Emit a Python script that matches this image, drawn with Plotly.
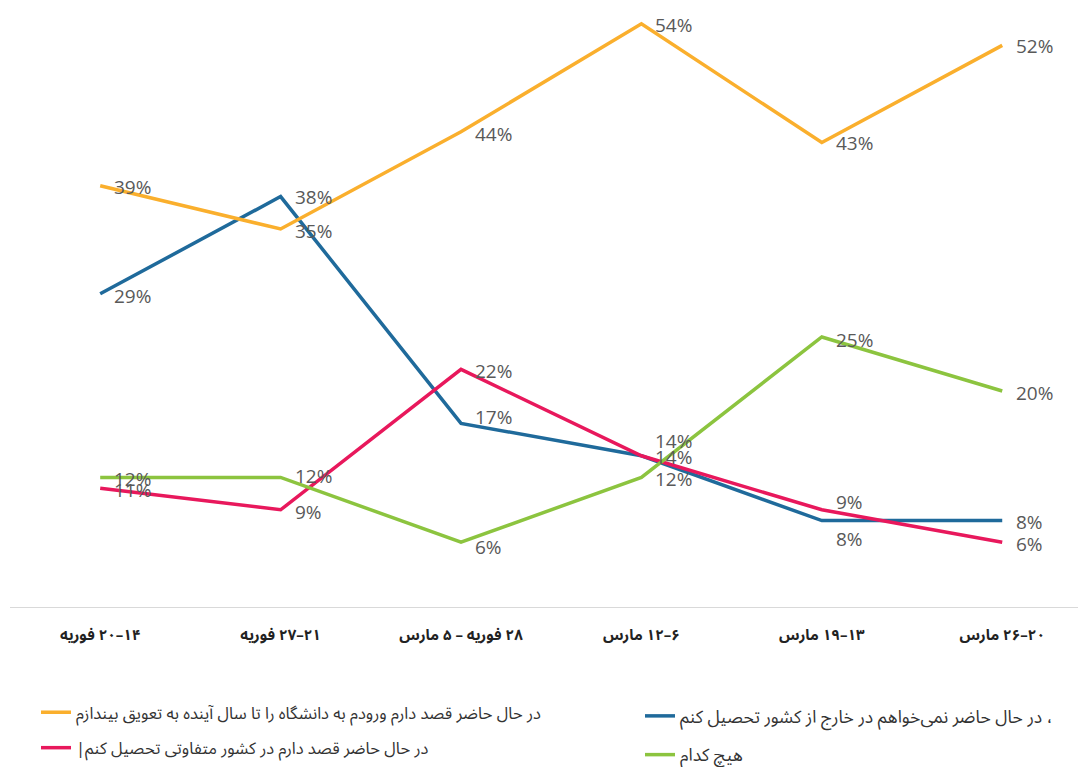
import plotly.graph_objects as go

# ---- data ----
RLE, PDF = "\u202b", "\u202c"  # right-to-left embedding for Persian text
categories = ["۱۴–۲۰ فوریه", "۲۱–۲۷ فوریه", "۲۸ فوریه – ۵ مارس",
              "۶–۱۲ مارس", "۱۳–۱۹ مارس", "۲۰–۲۶ مارس"]

series_names = [
    "در حال حاضر قصد دارم ورودم به دانشگاه را تا سال آینده به تعویق بیندازم",
    "، در حال حاضر نمی‌خواهم در خارج از کشور تحصیل کنم",
    "در حال حاضر قصد دارم در کشور متفاوتی تحصیل کنم|",
    "هیچ کدام",
]
delay_entry = [39, 35, 44, 54, 43, 52]
not_abroad = [29, 38, 17, 14, 8, 8]
other_country = [11, 9, 22, 14, 9, 6]
none_of_them = [12, 12, 6, 12, 25, 20]


def rtl(s):
    return RLE + s + PDF


# ---- styles ----
W, H = 1078, 767
colors = ["#FAAF2D", "#1F6A9B", "#E8185C", "#8CC43F"]
label_yshift = {
    0: [-1, -2, -2, -1, 0, -1],
    1: [-2, 0, 6, -1, -18, -1],
    2: [-2, -2, -2, 15, 8, -2],
    3: [-2, 1, -5, -2, -3, -2],
}
legend_of = ["legend", "legend2", "legend", "legend2"]

values = [delay_entry, not_abroad, other_country, none_of_them]
draw_order = [1, 0, 2, 3]
x_cats = [rtl(c) for c in categories]

fig = go.Figure()
for i in draw_order:
    fig.add_trace(go.Scatter(
        x=x_cats, y=values[i], mode="lines", name=rtl(series_names[i]),
        line=dict(color=colors[i], width=3.5),
        legend=legend_of[i], legendrank=i + 1,
        legendgroup=f"g{i}",
        hoverinfo="skip",
    ))

annotations = []
for i, vals in enumerate(values):
    for j, v in enumerate(vals):
        annotations.append(dict(
            x=x_cats[j], y=v, xref="x", yref="y",
            text=f"{v}%", showarrow=False,
            xanchor="left", yanchor="middle",
            xshift=12, yshift=label_yshift[i][j],
            font=dict(family="Open Sans, sans-serif", size=19, color="#595959"),
        ))

persian_font = "Noto Sans Arabic, Vazirmatn, DejaVu Sans, sans-serif"

fig.update_layout(
    width=W, height=H,
    margin=dict(l=0, r=0, t=0, b=0, autoexpand=False),
    paper_bgcolor="white", plot_bgcolor="white",
    showlegend=True,
    xaxis=dict(
        type="category", range=[-0.5, 5.42], domain=[10 / W, 1],
        showgrid=False, zeroline=False, automargin=False,
        showline=True, linecolor="#D9D9D9", linewidth=1,
        ticks="", ticklabelstandoff=14, tickangle=0,
        tickfont=dict(family=persian_font, size=15, color="#222222", weight="bold"),
    ),
    yaxis=dict(range=[0, 56.2], domain=[(H - 607) / H, 1],
               visible=False, showgrid=False),
    legend=dict(
        x=36 / W, xanchor="left",
        y=(H - 695) / H, yanchor="top",
        orientation="v", tracegroupgap=11,
        font=dict(family=persian_font, size=16.5, color="#333333"),
        bgcolor="rgba(0,0,0,0)",
    ),
    legend2=dict(
        x=640 / W, xanchor="left",
        y=(H - 698) / H, yanchor="top",
        orientation="v", tracegroupgap=13,
        font=dict(family=persian_font, size=17.5, color="#333333"),
        bgcolor="rgba(0,0,0,0)",
    ),
    annotations=annotations,
)

fig.write_html("out.html", config={"displayModeBar": False},
               post_script="document.body.style.margin='0px';")
